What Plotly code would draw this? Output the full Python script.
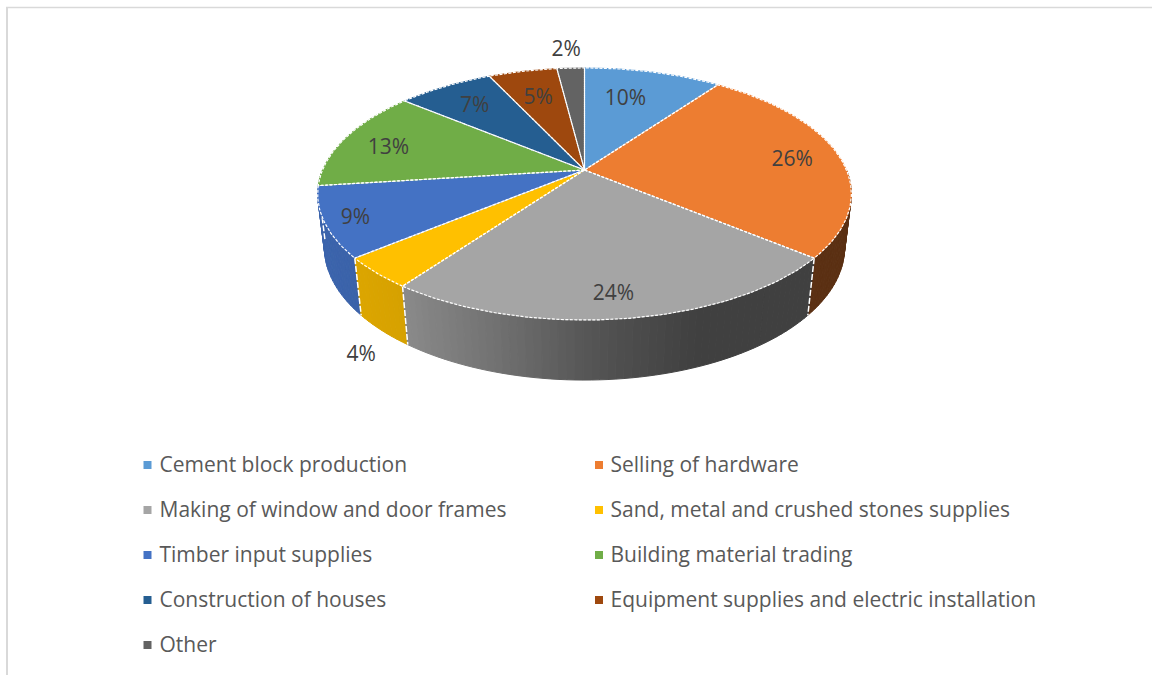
import numpy as np
import plotly.graph_objects as go

# Chart content
categories = [
    "Cement block production", "Selling of hardware",
    "Making of window and door frames", "Sand, metal and crushed stones supplies",
    "Timber input supplies", "Building material trading",
    "Construction of houses", "Equipment supplies and electric installation",
    "Other",
]
shares = [10, 26, 24, 4, 9, 13, 7, 5, 2]
colors = ["#5b9bd5", "#ed7d31", "#a5a5a5", "#ffc000", "#4472c4",
          "#70ad47", "#255e91", "#9e480e", "#636363"]

# Where each percentage sits: radial fraction of the pie, turn away from the slice
# middle in degrees, and height below the top face
label_radius = [0.70, 0.815, 0.848, 1.10, 0.889, 0.804, 0.763, 0.715, 1.244]
label_turn = [-3.4, 0, 0.9, -0.5, 0, -1.4, 0, 0, -0.4]
label_drop = [0, 0, 0, 1.15, 0, 0, 0, 0, 0]

# Perspective of the tilted disc, in pixels
CX, CY = 584.5, 170.0
SCALE_X, SCALE_Y = 262.0, 121.5
TILT = 0.19
RIM = 53.9
RIM_FALLOFF = 0.025

FONT = "Open Sans, sans-serif"


def project(theta_deg, radius=1.0, drop=0.0):
    """Map a point on the disc (clockwise from 12 o'clock) to the page."""
    t = np.radians(theta_deg)
    u = radius * np.sin(t)
    v = -radius * np.cos(t)
    w = 1 - TILT * v + RIM_FALLOFF * drop
    return CX + SCALE_X * u / w, CY + (SCALE_Y * v + RIM * drop) / w


def shade(hex_color, factor):
    r, g, b = (int(hex_color[i:i + 2], 16) for i in (1, 3, 5))
    return f"rgb({r * factor:.0f},{g * factor:.0f},{b * factor:.0f})"


def rim_light(x):
    """The rim darkens from left to right."""
    return np.interp(x, [320, 403, 500, 600, 700, 850], [0.88, 0.84, 0.68, 0.50, 0.385, 0.385])


edges = np.concatenate([[0], np.cumsum(shares)]) * 3.6
fig = go.Figure()

# Rim: narrow bands, back to front, so the front half of the disc reads as solid
bands = []
for i, color in enumerate(colors):
    start, stop = max(edges[i], 90), min(edges[i + 1], 270)
    if stop <= start:
        continue
    steps = max(1, int(np.ceil((stop - start) / 1.5)))
    cuts = np.linspace(start, stop, steps + 1)
    for a, b in zip(cuts[:-1], cuts[1:]):
        bands.append((a, b, color))
bands.sort(key=lambda s: -np.cos(np.radians((s[0] + s[1]) / 2)))

for a, b, color in bands:
    arc = np.array([a, b])
    xt, yt = project(arc)
    xb, yb = project(arc[::-1], drop=1.0)
    xs = np.concatenate([xt, xb, xt[:1]])
    ys = np.concatenate([yt, yb, yt[:1]])
    tone = shade(color, float(rim_light(xs.mean())))
    fig.add_trace(go.Scatter(x=xs, y=ys, mode="lines", fill="toself", fillcolor=tone,
                             line=dict(color=tone, width=1), hoverinfo="skip", showlegend=False))

# White dashes down the rim where two slices meet
for edge in edges:
    if 90 < edge < 270:
        xt, yt = project(edge)
        xb, yb = project(edge, drop=1.0)
        fig.add_trace(go.Scatter(x=[xt, xb], y=[yt, yb], mode="lines",
                                 line=dict(color="white", width=1.5, dash="6px,2px"),
                                 hoverinfo="skip", showlegend=False))

# Top face
for i, (name, color) in enumerate(zip(categories, colors)):
    arc = np.linspace(edges[i], edges[i + 1], max(3, int(shares[i] * 3.6)))
    xa, ya = project(arc)
    xs = np.concatenate([[CX], xa, [CX]])
    ys = np.concatenate([[CY], ya, [CY]])
    fig.add_trace(go.Scatter(x=xs, y=ys, mode="lines", fill="toself", fillcolor=color,
                             line=dict(color=color, width=1), name=name,
                             hovertemplate=f"{name}: {shares[i]}%<extra></extra>", showlegend=False))
for i in range(len(colors)):
    arc = np.linspace(edges[i], edges[i + 1], max(3, int(shares[i] * 3.6)))
    xa, ya = project(arc)
    xs = np.concatenate([[CX], xa, [CX]])
    ys = np.concatenate([[CY], ya, [CY]])
    fig.add_trace(go.Scatter(x=xs, y=ys, mode="lines",
                             line=dict(color="white", width=1.2, dash="3px,1.5px"),
                             hoverinfo="skip", showlegend=False))

# Percentage labels
mids = (edges[:-1] + edges[1:]) / 2 + np.array(label_turn)
lx, ly = project(mids, np.array(label_radius), np.array(label_drop))
fig.add_trace(go.Scatter(x=lx, y=ly + 2.5, mode="text", text=[f"{s}%" for s in shares],
                         textposition="middle center",
                         textfont=dict(family=FONT, size=21, color="#404040"),
                         hoverinfo="skip", showlegend=False))

# Two-column key below the pie
LEGEND_ROWS = [465 + 45 * (i // 2) for i in range(len(categories))]
LEGEND_MARKERS = [147.5 if i % 2 == 0 else 599 for i in range(len(categories))]
LEGEND_TEXT = [159.5 if i % 2 == 0 else 610.5 for i in range(len(categories))]
fig.add_trace(go.Scatter(x=LEGEND_MARKERS, y=LEGEND_ROWS, mode="markers",
                         marker=dict(symbol="square", size=8, color=colors, line=dict(width=0)),
                         hoverinfo="skip", showlegend=False))
fig.add_trace(go.Scatter(x=LEGEND_TEXT, y=[r + 2 for r in LEGEND_ROWS], mode="text", text=categories,
                         textposition="middle right",
                         textfont=dict(family=FONT, size=21, color="#595959"),
                         hoverinfo="skip", showlegend=False))

# Chart frame: only its top and left edges are in view
frame = dict(color="#d9d9d9")
fig.add_shape(type="line", x0=7, x1=7, y0=8, y1=675, line=dict(width=2, **frame), layer="below")
fig.add_shape(type="line", x0=6, x1=1152, y0=7.5, y1=7.5, line=dict(width=1.5, **frame), layer="below")

fig.update_layout(
    width=1152, height=675, margin=dict(l=0, r=0, t=0, b=0),
    paper_bgcolor="white", plot_bgcolor="white", showlegend=False,
    xaxis=dict(range=[0, 1152], visible=False, fixedrange=True),
    yaxis=dict(range=[675, 0], visible=False, fixedrange=True),
)
fig.write_html("out.html", config={"displayModeBar": False})
